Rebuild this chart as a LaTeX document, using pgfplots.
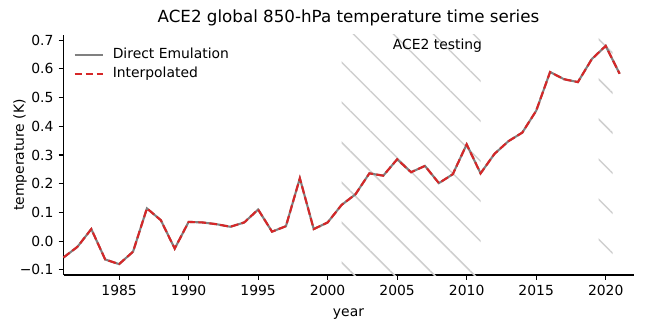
\documentclass[border=0pt]{standalone}
\usepackage{fontspec}
\setmainfont{DejaVu Sans}
\usepackage{pgfplots}
\pgfplotsset{compat=1.18}
\usetikzlibrary{calc,patterns.meta}
\definecolor{mplgray}{HTML}{808080}
\definecolor{mplred}{HTML}{D62728}
\definecolor{hatchgray}{HTML}{CFCFCF}

\pgfplotstableread{
year temp
1981 -0.057
1982 -0.020
1983 0.042
1984 -0.064
1985 -0.080
1986 -0.037
1987 0.114
1988 0.073
1989 -0.026
1990 0.067
1991 0.065
1992 0.059
1993 0.050
1994 0.065
1995 0.110
1996 0.033
1997 0.052
1998 0.219
1999 0.042
2000 0.065
2001 0.126
2002 0.163
2003 0.236
2004 0.228
2005 0.285
2006 0.240
2007 0.262
2008 0.202
2009 0.233
2010 0.337
2011 0.236
2012 0.304
2013 0.348
2014 0.378
2015 0.454
2016 0.589
2017 0.564
2018 0.554
2019 0.634
2020 0.680
2021 0.583
}\direct

\pgfplotstableread{
year temp
1981 -0.057
1982 -0.020
1983 0.042
1984 -0.064
1985 -0.080
1986 -0.037
1987 0.114
1988 0.073
1989 -0.026
1990 0.067
1991 0.065
1992 0.059
1993 0.050
1994 0.065
1995 0.110
1996 0.033
1997 0.052
1998 0.219
1999 0.042
2000 0.065
2001 0.126
2002 0.163
2003 0.236
2004 0.228
2005 0.285
2006 0.240
2007 0.262
2008 0.202
2009 0.233
2010 0.337
2011 0.236
2012 0.304
2013 0.348
2014 0.378
2015 0.454
2016 0.589
2017 0.564
2018 0.554
2019 0.634
2020 0.680
2021 0.583
}\interp

\newcommand{\tickfont}{\fontsize{13.9bp}{16bp}\selectfont}

\begin{document}
\begin{tikzpicture}
\begin{axis}[
  name=ax,
  scale only axis,
  width=570bp, height=240bp,
  xmin=1981, xmax=2022,
  ymin=-0.118, ymax=0.718,
  axis x line*=bottom, axis y line*=left,
  axis line style={black, line width=1.1bp, -},
  tick pos=left,
  tick align=outside,
  major tick length=4.9bp,
  tick style={black, line width=1.1bp},
  xtick={1985,1990,1995,2000,2005,2010,2015,2020},
  xticklabels={1985,1990,1995,2000,2005,2010,2015,2020},
  ytick={-0.1,0,0.1,0.2,0.3,0.4,0.5,0.6,0.7},
  yticklabels={−0.1,0.0,0.1,0.2,0.3,0.4,0.5,0.6,0.7},
  tick label style={font=\tickfont},
  xticklabel style={inner sep=0pt, yshift=-4.9bp},
  yticklabel style={inner sep=0pt, xshift=-4.9bp},
  xlabel={year},
  ylabel={temperature (K)},
  label style={font=\tickfont},
  xlabel style={at={(axis description cs:0.5,0)}, anchor=north, inner sep=0pt, yshift=-34bp},
  ylabel style={at={(axis description cs:-0.064,0.5)}, anchor=south, inner sep=0pt},
  title={ACE2 global 850-hPa temperature time series},
  title style={font=\fontsize{16.7bp}{19bp}\selectfont, at={(0.5,1)}, anchor=south, inner sep=0pt, yshift=3bp},
  legend style={draw=none, fill=none, at={(0,1)}, anchor=north west,
    xshift=7bp, yshift=-11bp, font=\tickfont, row sep=5bp, column sep=9bp,
    nodes={inner sep=0pt, text height=10.5bp, text depth=3.5bp}},
  legend cell align=left,
  legend image code/.code={\draw[#1] (0bp,0bp) -- (28bp,0bp);},
  clip=false,
]
  \fill[pattern={Lines[angle=-45, distance=28.3bp, line width=1.5bp, yshift=11bp]}, pattern color=hatchgray]
    (axis cs:2001,-0.118) rectangle (axis cs:2011,0.718);
  \fill[pattern={Lines[angle=-45, distance=28.3bp, line width=1.5bp, yshift=11bp]}, pattern color=hatchgray]
    (axis cs:2019.5,-0.118) rectangle (axis cs:2020.5,0.718);

  \addplot[mplgray, line width=2.1bp] table[x=year, y=temp] {\direct};
  \addlegendentry{Direct Emulation}
  \addplot[mplred, line width=2.1bp, dash pattern=on 7.7bp off 3.3bp] table[x=year, y=temp] {\interp};
  \addlegendentry{Interpolated}

  \node[font=\tickfont, anchor=center] at (axis cs:2007.9,0.681) {ACE2 testing};
\end{axis}
\pgfresetboundingbox
\path[use as bounding box] ($(ax.south west)+(-63.5bp,-57bp)$) rectangle ($(ax.south west)+(583.5bp,275bp)$);
\end{tikzpicture}
\end{document}
